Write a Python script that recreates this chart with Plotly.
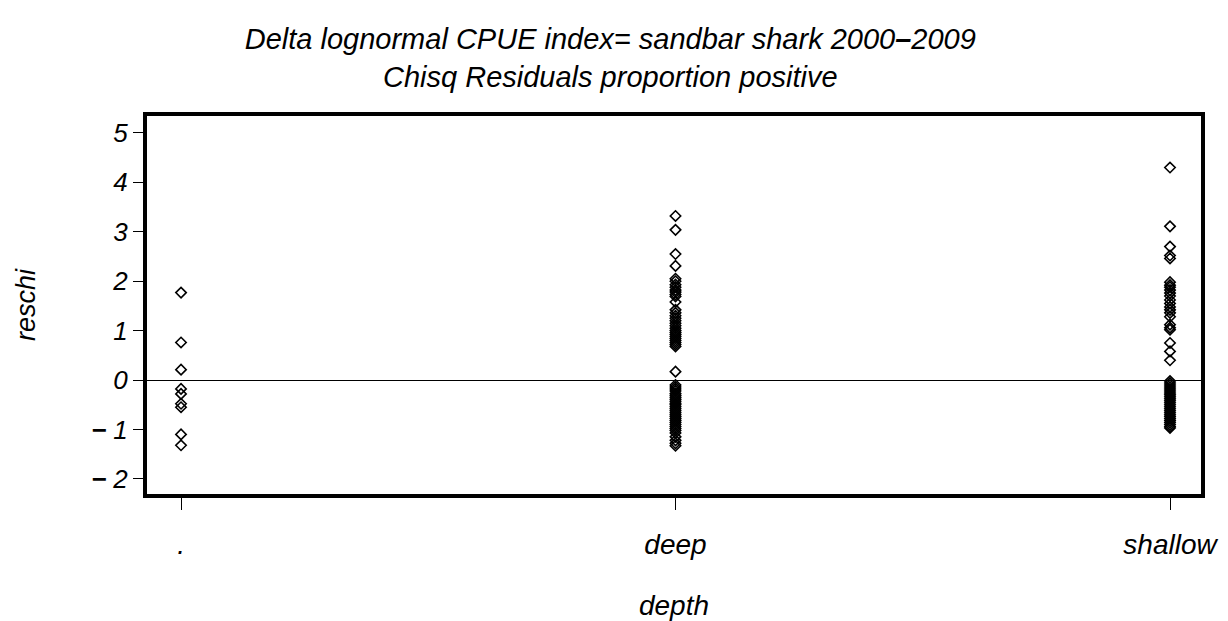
import plotly.graph_objects as go

categories = [".", "deep", "shallow"]

dot_vals = [1.77, 0.76, 0.21, -0.18, -0.28, -0.48, -0.55, -1.10, -1.32]

deep_vals = [3.32, 3.04, 2.55, 2.31, 2.05, 2.00, 1.93, 1.88, 1.82, 1.78, 1.73, 1.69,
             1.58, 1.42, 1.36, 1.30, 1.25, 1.20, 1.15, 1.10, 1.05, 1.00, 0.96,
             0.92, 0.88, 0.84, 0.80, 0.76, 0.72, 0.68, 0.17,
             -0.10, -0.14, -0.18, -0.22, -0.27, -0.31, -0.35, -0.39, -0.43, -0.47,
             -0.50, -0.54, -0.58, -0.62, -0.66, -0.70, -0.74, -0.78, -0.82, -0.86,
             -0.90, -0.94, -0.98, -1.02, -1.07, -1.15, -1.22, -1.28, -1.33]

shallow_vals = [4.30, 3.11, 2.70, 2.52, 2.46, 1.98, 1.92, 1.88, 1.82, 1.76, 1.70,
                1.62, 1.55, 1.48, 1.42, 1.36, 1.28, 1.12, 1.06, 1.02, 0.75, 0.58,
                0.40,
                -0.02, -0.06, -0.10, -0.14, -0.18, -0.22, -0.26, -0.30, -0.34,
                -0.38, -0.42, -0.46, -0.50, -0.54, -0.58, -0.62, -0.66, -0.70,
                -0.74, -0.78, -0.82, -0.86, -0.90, -0.94, -0.97]

y_ticks = [-2, -1, 0, 1, 2, 3, 4, 5]
y_ticktext = ["<b>\u2212</b> 2", "<b>\u2212</b> 1", "0", "1", "2", "3", "4", "5"]

xs = ([categories[0]] * len(dot_vals) + [categories[1]] * len(deep_vals)
      + [categories[2]] * len(shallow_vals))
ys = dot_vals + deep_vals + shallow_vals

FONT = "Liberation Sans, Arial, sans-serif"

fig = go.Figure()
fig.add_trace(go.Scatter(
    x=xs, y=ys, mode="markers",
    marker=dict(symbol="diamond-open", size=8, color="black",
                line=dict(color="black", width=1.6)),
    showlegend=False, hoverinfo="x+y",
))

fig.update_layout(
    width=1228, height=621,
    paper_bgcolor="white", plot_bgcolor="white",
    margin=dict(l=147, r=27, t=116, b=127),
    title=dict(
        text="Delta lognormal CPUE index= sandbar shark 2000<b>\u2013</b>2009<br>Chisq Residuals proportion positive",
        x=0.497, xanchor="center", y=1 - 49 / 621, yanchor="middle",
        font=dict(family=FONT, size=29, color="black", style="italic"),
    ),
    font=dict(family=FONT, color="black", style="italic"),
)

fig.update_xaxes(
    type="category", categoryorder="array", categoryarray=categories,
    range=[-0.0688, 2.0627], automargin=False,
    showline=True, linecolor="black", linewidth=4, mirror=True,
    ticks="outside", ticklen=12, tickwidth=1, tickcolor="black",
    showgrid=False, zeroline=False,
    tickfont=dict(family=FONT, size=28, color="black", style="italic"),
    ticklabelstandoff=10,
    title=dict(text="depth", standoff=38,
               font=dict(family=FONT, size=28, color="black", style="italic")),
)

fig.update_yaxes(
    range=[-2.306, 5.343], automargin=False,
    tickvals=y_ticks, ticktext=y_ticktext,
    showline=True, linecolor="black", linewidth=4, mirror=True,
    ticks="outside", ticklen=10, tickwidth=1, tickcolor="black",
    showgrid=False,
    zeroline=True, zerolinecolor="black", zerolinewidth=1,
    tickfont=dict(family=FONT, size=26, color="black", style="italic"),
    title=dict(text="reschi", standoff=48,
               font=dict(family=FONT, size=27, color="black", style="italic")),
)

fig.write_html("out.html")
